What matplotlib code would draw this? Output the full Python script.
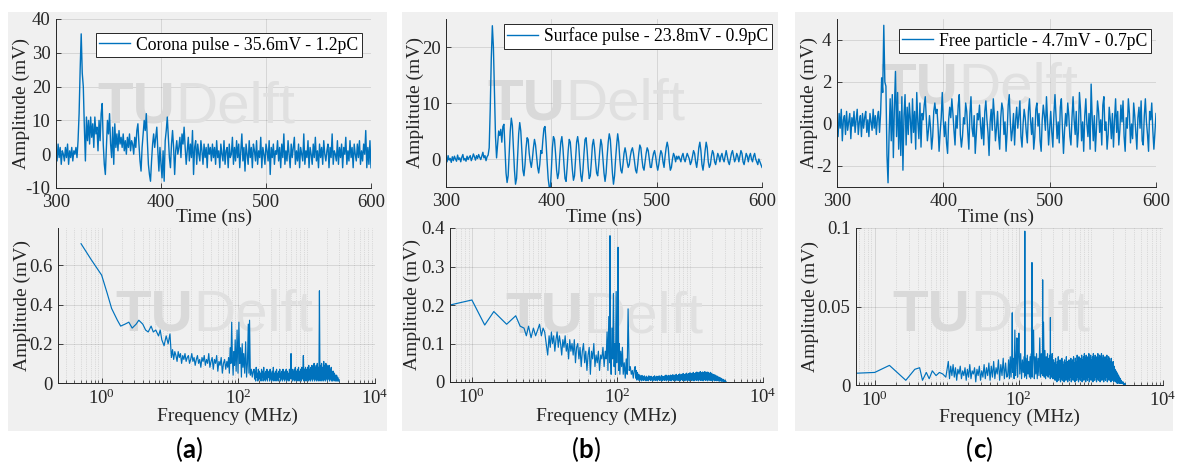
import numpy as np
import matplotlib
matplotlib.use('Agg')
import matplotlib.pyplot as plt
from matplotlib.patches import Rectangle
from matplotlib.ticker import FixedLocator, LogLocator, NullFormatter

plt.rcParams['font.family'] = ['Liberation Serif', 'DejaVu Serif']
plt.rcParams['mathtext.fontset'] = 'custom'
plt.rcParams['mathtext.rm'] = 'Liberation Serif'
plt.rcParams['mathtext.it'] = 'Liberation Serif:italic'
plt.rcParams['mathtext.bf'] = 'Liberation Serif:bold'
plt.rcParams['axes.unicode_minus'] = False

# ------------------------------------------------------------------ data
time_start, time_stop = 300, 600   # ns, one sample per ns

corona_mV = (
    [1, -2, 3, -1, 2, -3, 1, 0, -2, 2, -1, 3, -3, 1, -1, 2, -2, 1, 0, 2, -1]
    + [4, 12, 25, 35.6, 24, 20, 8, -2]
    + [11, 4, 10, 3, 11, 5, 9, 2, 11, 6, 8, 1, 10, 4, 12, 15, 3]
    + [-3, -6, 2, 10, 6, 12, 3, -1, 8, -3]
    + [9, 2, 6, 1, 7, 3, 5, 2, 6, 1]
    + [4, 0, 5, 2, 6, 1, 4, 3, 0, 5]
    + [2, 7, 9, 3, -2, -5, 2, 6, 10, 7]
    + [12, 4, -3, -6, -8, -2, 3, 6, 2, 5]
    + [8, 1, -5, 2, -3, -7, 1, -8, 4, 7]
    + [11, 5, -1, -4, 3, 7, 2, -6, 1, 4]
    + [0, 2, 5, -1, 6, 3, 8, 2, -3, 1]
    + [5, -2, 3, -1, 7, -6, 2, 4, -3, 3]
    + [0, -2, 4, 1, -3, 3, -1, 2, -4, 3]
    + [0, 2, -2, 3, -1]
    + [2, -3, 4, -1, 1, -4, 3, 0, -2, 4, -3, 1, 2, -4, 3, -1, 0, 5, -3, 2]
    + [-2, 4, -1, 3, -4, 1, 6, -2, 2, -5, 3, 0, -3, 4, -1, 2, -4, 3, 1, -2]
    + [4, -3, 1, -1, 5, -4, 2, 0, -3, 3, 1, -2, 4, -6, 2, -1, 3, -3, 1, 0]
    + [4, -2, 2, -4, 3, -1, 6, -3, 1, -2, 4, 0, -4, 3, -1, 2, 5, -3, 1, -2]
    + [3, -4, 2, 0, -2, 6, -3, 1, -1, 4, -4, 2, 0, -3, 3, -1, 5, -2, 1, -4]
    + [3, -1, 2, -3, 4, 0, -2, 1, 3, -4, 2, -1, 6, -3, 1, 0, -2, 4, -3, 2]
    + [-1, 3, -4, 2, 0, 5, -3, 1, -2, 4, -1, 2, -4, 3, 0, -2, 3, -1, 4, -3]
    + [1, -2, 3, 0, 7, -4, 2, -3, 4, -4]
)

surface_mV = (
    [0.3, -0.5, 0.6, -0.2, 0.1, -0.6, 0.4, -0.3, 0.5, 0.0,
     -0.4, 0.7, -0.1, 0.2, -0.5, 0.3, 0.8, -0.2, 0.1, -0.4,
     0.5, -0.1, 0.3, 0.6, -0.3, 0.2, 0.9, 0.4, -0.2, 0.6,
     0.1, 0.8, 0.3, -0.1, 0.5, 1.2, 0.2, 0.6, -0.3, 0.4, 0.7]
    + [2.0, 9.0, 18.0, 23.8, 20.0, 12.0, 4.0, 0.2, 2.5, 5.0]
    + [4.2, 5.3, 3.0, 5.8, 6.2, 2.0, -2.5, -4.2, -3.0, 1.0]
    + [5.0, 7.3, 6.0, 2.0, -2.0, -4.5, -3.5, 0.5, 4.5, 6.5]
    + [5.0, 1.5, -2.0, -3.0, -1.0, 2.0, 3.8, 3.5, 1.0, -0.5]
    + [-1.5, 0.0, 2.0, 3.5, 2.5, 0.5, -1.5, -2.5, -1.0, 1.5]
    + [1.0, 3.5, 5.5, 5.8, 3.0, -0.5, -3.5, -5.0, -5.5, -2.0]
    + [2.0, 4.0, 3.5, 1.0, -2.0, -3.5, -2.5, 0.5, 3.0, 4.0]
    + [2.0, -1.0, -3.5, -4.0, -1.5, 1.5, 3.5, 3.0, 0.5, -2.0]
    + [-3.8, -3.0, 0.0, 3.0, 4.0, 2.5, -0.5, -3.0, -4.0, -2.0]
    + [1.0, 3.5, 3.8, 1.5, -1.5, -3.5, -3.0, -0.5, 2.5, 3.5]
    + [2.0, -0.5, -2.5, -3.0, -1.0, 1.5, 3.5, 2.5, 0.0, -2.5]
    + [-4.0, -2.5, 0.5, 3.0, 4.5, 3.5, 0.5, -2.5, -4.5, -3.0]
    + [0.0, 2.5, 4.5, 3.0, 0.0, -2.0, -2.5, -1.0, 1.0, 2.0]
    + [1.0, -0.5, -1.5, -1.0, 0.5, 1.5, 2.0, 1.0, -0.5, -2.0]
    + [-2.5, -1.0, 1.0, 2.5, 2.0, 0.0, -1.5, -2.0, -0.5, 1.0]
    + [2.0, 1.5, 0.0, -1.5, -1.5, 0.0, 1.0, 1.5, 0.5, -1.0]
    + [-2.0, -1.0, 0.5, 1.5, 1.0, -0.5, -1.5, 0.5, 2.0, 3.0]
    + [2.0, -0.5, -2.0, -1.5, 0.0, 1.0, 0.5, -0.5, 0.5, 0.0]
    + [0.5, 0.0, -0.5, 0.5, 1.0, 0.0, -0.5, 0.3, 1.0, 0.5]
    + [0.0, -1.0, -0.5, 0.5, 1.5, 1.0, -0.5, -1.5, 0.0, 2.0]
    + [3.0, 1.5, -1.0, -2.0, -0.5, 1.5, 3.0, 2.0, -0.5, -1.5]
    + [-1.0, 0.5, 1.5, 1.0, -0.5, -1.0, 0.0, 1.0, 0.5, -0.5]
    + [0.5, 1.0, 0.0, -0.5, 0.5, 1.5, 0.5, -0.5, -1.0, 0.0]
    + [1.0, 1.5, 0.5, -0.5, 0.0, 1.0, 0.5, -0.5, 0.5, 1.5]
    + [1.0, -0.5, -1.0, 0.0, 1.0, 0.5, -0.5, 0.5, 1.0, 0.0]
    + [-0.5, 0.5, 1.0, 0.0, -0.5, -1.0, 0.0, -0.5, -1.0, -1.5]
)

particle_mV = (
    [0.3, -0.6, 0.5, -0.2, 0.7, -0.8, 0.2, 0.4, -0.5, 0.6,
     -0.3, 0.1, 0.5, -0.7, 0.3, -0.1, 0.6, -0.4, 0.2, 0.7,
     -0.5, 0.1, 0.4, -0.6, 0.5, -0.2, 0.3, 0.6, -0.4, 0.2,
     -0.6, 0.5, 0.1, -0.3, 0.7, -0.2, 0.4, -0.5, 0.3, 0.6, -0.4]
    + [0.5, 2.2, 1.5, 4.7, 2.0, 1.8, -1.5, -2.8, -0.5, 1.2]
    + [-0.8, 1.4, -1.6, 0.8, 2.5, -0.6, 1.5, -1.2, 0.6, -1.5]
    + [1.3, -2.2, 0.4, 1.4, -1.0, 0.8, -0.5, 1.0, 0.2, -0.9]
    + [1.2, -0.4, 0.6, -1.2, 1.5, 0.1, -0.7, 1.0, -1.1, 0.5]
    + [0.2, 0.9, 1.3, 0.3, -0.8, -0.3, 0.4, -0.2, -1.2, -0.6, 0.6, 1.0, 0.5, 0.7, -0.1, -1.3, -0.4, 0.3, 1.5, 0.2]
    + [-0.6, 0.1, -0.9, -1.4, 0.2, 0.8, 0.3, 1.2, 0.5, -0.3, -1.0, 0.4, -0.2, 0.9, 1.4, -0.5, -1.1, -0.6, 0.3, 0.0]
    + [1.0, 0.6, -0.4, -1.2, 0.5, 1.3, -0.2, -0.6, 0.4, -1.4, -0.5, 0.5, 0.2, 0.9, -0.1, -0.7, 0.3, -1.0, 0.6, 1.1]
    + [0.2, -0.4, -1.5, 0.1, 0.7, -0.3, 1.2, 0.4, -0.8, -0.2, 0.6, -0.6, -1.2, 0.3, 1.0, 0.7, -0.5, 0.1, -1.3, -0.4]
    + [0.9, 1.4, 0.1, -0.8, -0.3, 0.5, -1.0, 0.2, 0.8, -0.2, 0.4, 1.1, -0.6, -1.1, 0.0, 0.7, 0.3, -0.4, -0.9, 0.6]
    + [1.2, 0.2, -0.5, 0.3, -1.2, -0.6, 0.7, 1.0, -0.1, 0.5, -0.8, -1.3, 0.2, 0.9, 0.4, -0.3, 1.3, 0.1, -1.0, -0.2]
    + [0.6, -0.4, -1.1, 0.5, 1.4, 0.3, -0.7, 0.1, -0.9, 0.8, 1.2, -0.2, -1.4, -0.3, 0.5, -0.1, 1.0, 0.4, -0.6, -1.0]
    + [0.3, 1.3, 0.2, -0.5, 0.6, -1.1, -0.4, 1.5, 0.7, -0.8, 0.1, -1.3, 0.4, 1.2, 0.0, -0.6, 0.5, -1.2, 1.9, 0.3]
    + [-0.8, 0.4, -1.3, -0.2, 1.1, 0.6, -0.4, 0.2, -1.0, 0.9, 1.3, -0.3, 0.1, -1.2, -0.5, 0.8, 0.2, -0.7, 0.5, -1.1]
    + [0.2, 1.2, -0.4, 0.6, -1.0, -0.3, 0.9, 0.1, 1.1, -0.6, -1.3, 0.3, -0.2, 1.2, 0.5, -0.9, 0.0, -0.7, 1.0, 0.4]
    + [-0.4, -1.2, 0.3, 0.8, -0.2, 1.1, -0.8, -1.0, 0.4, 1.2, 0.1, -0.5, -1.3, 0.6, 0.2, 1.0, -0.3, -1.2, -0.4, 0.5]
)

legend_labels = ['Corona pulse - 35.6mV - 1.2pC',
                 'Surface pulse - 23.8mV - 0.9pC',
                 'Free particle - 4.7mV - 0.7pC']

# ---- spectra (frequency in MHz, amplitude in mV)
# (a) corona
low_f_a = [0.5, 0.7, 1.0, 1.2, 1.4, 1.7, 1.9, 2.2, 2.5, 2.8, 3.2, 3.5, 4.0, 4.4,
           4.8, 5.3, 5.7, 6.2, 6.8, 7.2, 7.6, 8.2, 8.8, 9.4, 10.0]
low_a_a = [0.71, 0.63, 0.55, 0.46, 0.38, 0.32, 0.29, 0.30, 0.31, 0.28, 0.30, 0.32,
           0.30, 0.27, 0.26, 0.29, 0.26, 0.27, 0.24, 0.27, 0.22, 0.19, 0.24, 0.20, 0.25]
mid_range_a = (10.5, 68)
mid_a_a = [0.13, 0.17, 0.12, 0.16, 0.14, 0.11, 0.16, 0.13, 0.15, 0.10,
           0.14, 0.12, 0.15, 0.11, 0.13, 0.14, 0.10, 0.12, 0.15, 0.11,
           0.13, 0.09, 0.12, 0.14, 0.10, 0.12, 0.08, 0.13, 0.11, 0.14,
           0.09, 0.12, 0.10, 0.15, 0.08, 0.11, 0.13, 0.07, 0.12, 0.10,
           0.14, 0.06, 0.11, 0.09, 0.13, 0.05, 0.10, 0.12, 0.07, 0.11]
peak_f_a = [70, 72, 74, 76, 78, 80, 82, 84, 86, 88, 90, 93, 96, 99, 102, 105, 108,
            111, 114, 117, 120, 124, 128, 132, 136, 140, 143, 146, 150, 155, 160, 165]
peak_a_a = [0.08, 0.13, 0.05, 0.18, 0.10, 0.31, 0.12, 0.04, 0.16, 0.09, 0.22, 0.06,
            0.27, 0.05, 0.31, 0.10, 0.18, 0.03, 0.20, 0.08, 0.15, 0.05, 0.21, 0.03,
            0.10, 0.30, 0.05, 0.32, 0.04, 0.07, 0.03, 0.06]
band_range_a = (170, 3000)
band_a_a = [0.07, 0.02, 0.06, 0.01, 0.08, 0.03, 0.05, 0.01, 0.07, 0.02, 0.06, 0.02, 0.05, 0.01, 0.07, 0.03, 0.06, 0.01, 0.08, 0.02,
            0.05, 0.01, 0.06, 0.02, 0.07, 0.01, 0.05, 0.03, 0.06, 0.01, 0.07, 0.02, 0.05, 0.01, 0.06, 0.02, 0.08, 0.01, 0.05, 0.02,
            0.06, 0.01, 0.07, 0.02, 0.05, 0.01, 0.06, 0.03, 0.07, 0.01, 0.05, 0.02, 0.06, 0.01, 0.07, 0.02, 0.05, 0.01, 0.06, 0.02,
            0.07, 0.01, 0.06, 0.02, 0.05, 0.01, 0.07, 0.02, 0.06, 0.15, 0.02, 0.07, 0.01, 0.06, 0.02, 0.07, 0.01, 0.08, 0.02, 0.06,
            0.01, 0.07, 0.02, 0.08, 0.01, 0.06, 0.02, 0.07, 0.01, 0.08, 0.02, 0.06, 0.14, 0.01, 0.07, 0.02, 0.08, 0.01, 0.07, 0.02,
            0.08, 0.01, 0.09, 0.02, 0.07, 0.01, 0.08, 0.02, 0.09, 0.01, 0.08, 0.02, 0.10, 0.01, 0.08, 0.02, 0.09, 0.01, 0.10, 0.02,
            0.08, 0.01, 0.47, 0.02, 0.09, 0.01, 0.10, 0.02, 0.08, 0.01, 0.11, 0.02, 0.09, 0.01, 0.10, 0.02, 0.09, 0.01, 0.08, 0.02,
            0.09, 0.01, 0.07, 0.02, 0.08, 0.01, 0.06, 0.01, 0.06, 0.02, 0.05, 0.01, 0.04, 0.01, 0.04, 0.01, 0.03, 0.01, 0.02, 0.01]

# (b) surface
low_f_b = [0.5, 1.0, 1.5, 2.0, 3.0, 4.0, 4.6, 5.2, 5.6, 6.0, 6.5, 7.0, 7.5, 8.0,
           8.5, 9.0, 9.5, 10.0, 10.5, 11.0]
low_a_b = [0.20, 0.213, 0.148, 0.183, 0.15, 0.172, 0.145, 0.14, 0.12, 0.145, 0.115,
           0.14, 0.12, 0.135, 0.15, 0.12, 0.14, 0.13, 0.10, 0.07]
mid_range_b = (11.5, 68)
mid_a_b = [0.12, 0.09, 0.13, 0.10, 0.12, 0.08, 0.11, 0.13, 0.09, 0.12,
           0.10, 0.07, 0.11, 0.09, 0.12, 0.08, 0.10, 0.06, 0.11, 0.08,
           0.10, 0.07, 0.11, 0.05, 0.09, 0.10, 0.06, 0.09, 0.04, 0.08,
           0.10, 0.05, 0.08, 0.03, 0.07, 0.09, 0.02, 0.08, 0.06, 0.10,
           0.04, 0.07, 0.05, 0.08, 0.03, 0.07, 0.06, 0.09, 0.04, 0.08]
peak_f_b = [70, 72, 74, 76, 78, 79, 80, 82, 84, 86, 88, 90, 92, 94, 96, 98, 100, 102,
            104, 106, 108, 111, 114, 117, 120, 124, 128, 132, 136, 140, 145, 150,
            155, 160, 165, 170]
peak_a_b = [0.06, 0.13, 0.03, 0.17, 0.05, 0.38, 0.08, 0.02, 0.14, 0.06, 0.23, 0.04,
            0.10, 0.02, 0.235, 0.05, 0.12, 0.35, 0.03, 0.10, 0.02, 0.08, 0.04, 0.09,
            0.02, 0.05, 0.01, 0.06, 0.02, 0.19, 0.03, 0.04, 0.02, 0.03, 0.01, 0.03]
band_range_b = (175, 3100)
band_a_b = [0.04, 0.01, 0.03, 0.005, 0.025, 0.01, 0.02, 0.004, 0.018, 0.006, 0.015, 0.003, 0.017, 0.005, 0.014, 0.004, 0.016, 0.006, 0.013, 0.003,
            0.015, 0.005, 0.012, 0.003, 0.016, 0.006, 0.013, 0.004, 0.015, 0.005, 0.012, 0.003, 0.014, 0.006, 0.016, 0.004, 0.013, 0.005, 0.015, 0.003,
            0.014, 0.006, 0.016, 0.004, 0.013, 0.005, 0.017, 0.003, 0.015, 0.006, 0.014, 0.004, 0.016, 0.005, 0.018, 0.003, 0.015, 0.006, 0.017, 0.004,
            0.016, 0.005, 0.018, 0.003, 0.017, 0.006, 0.019, 0.004, 0.016, 0.005, 0.018, 0.003, 0.020, 0.006, 0.017, 0.004, 0.019, 0.005, 0.021, 0.003,
            0.018, 0.006, 0.020, 0.004, 0.022, 0.005, 0.019, 0.003, 0.021, 0.006, 0.023, 0.004, 0.020, 0.005, 0.022, 0.003, 0.024, 0.006, 0.021, 0.004,
            0.023, 0.005, 0.025, 0.003, 0.022, 0.006, 0.024, 0.004, 0.026, 0.005, 0.023, 0.003, 0.025, 0.006, 0.027, 0.004, 0.024, 0.005, 0.026, 0.003,
            0.025, 0.006, 0.027, 0.004, 0.024, 0.005, 0.026, 0.003, 0.025, 0.006, 0.023, 0.004, 0.025, 0.005, 0.022, 0.003, 0.020, 0.005, 0.019, 0.003,
            0.018, 0.004, 0.016, 0.003, 0.015, 0.004, 0.013, 0.002, 0.012, 0.003, 0.010, 0.002, 0.008, 0.002, 0.007, 0.001, 0.005, 0.001, 0.003, 0.001]

# (c) free particle
low_f_c = [0.55, 1.0, 1.6, 2.7, 3.6, 4.2, 4.6, 5.2, 5.7, 6.3, 7.1, 7.9, 8.8, 9.7]
low_a_c = [0.0075, 0.008, 0.0125, 0.003, 0.010, 0.011, 0.003, 0.008, 0.004, 0.009,
           0.006, 0.008, 0.007, 0.005]
mid_range_c = (10.5, 68)
mid_a_c = [0.015, 0.004, 0.012, 0.006, 0.013, 0.005, 0.011, 0.003, 0.010, 0.007,
           0.012, 0.004, 0.009, 0.006, 0.011, 0.003, 0.010, 0.005, 0.013, 0.004,
           0.009, 0.007, 0.011, 0.002, 0.010, 0.006, 0.012, 0.003, 0.009, 0.005,
           0.013, 0.004, 0.011, 0.006, 0.014, 0.003, 0.012, 0.005, 0.015, 0.004,
           0.011, 0.007, 0.016, 0.003, 0.013, 0.006, 0.017, 0.004, 0.014, 0.005]
peak_f_c = [70, 72, 74, 76, 78, 80, 81, 82, 84, 86, 88, 90, 92, 94, 96, 98, 100, 103,
            106, 109, 112, 115, 118, 120, 121, 122, 125, 128, 131, 134, 137, 140, 143,
            146, 149, 151, 152, 153, 156, 160, 164, 168, 172, 176, 180, 185, 190, 195,
            200, 205, 210, 213, 214, 215, 220, 225, 230, 235, 240, 245, 250, 255, 260,
            265, 270, 273, 274, 275, 280, 285, 290, 295, 300]
peak_a_c = [0.006, 0.016, 0.004, 0.018, 0.005, 0.02, 0.046, 0.008, 0.017, 0.004,
            0.035, 0.006, 0.015, 0.03, 0.005, 0.018, 0.033, 0.007, 0.02, 0.004,
            0.016, 0.008, 0.018, 0.005, 0.098, 0.006, 0.017, 0.004, 0.019, 0.007,
            0.015, 0.005, 0.018, 0.004, 0.02, 0.006, 0.078, 0.005, 0.016, 0.035,
            0.004, 0.018, 0.007, 0.02, 0.004, 0.017, 0.006, 0.03, 0.005, 0.02,
            0.007, 0.015, 0.067, 0.006, 0.04, 0.005, 0.022, 0.004, 0.018, 0.006,
            0.02, 0.005, 0.017, 0.007, 0.019, 0.004, 0.043, 0.006, 0.018, 0.005,
            0.02, 0.004, 0.016]
band_range_c = (305, 3000)
band_a_c = [0.016, 0.004, 0.014, 0.003, 0.017, 0.005, 0.013, 0.002, 0.015, 0.004, 0.018, 0.003, 0.014, 0.005, 0.016, 0.002, 0.013, 0.004, 0.017, 0.003,
            0.015, 0.005, 0.013, 0.002, 0.016, 0.004, 0.014, 0.003, 0.018, 0.005, 0.015, 0.002, 0.013, 0.004, 0.016, 0.003, 0.014, 0.005, 0.017, 0.002,
            0.015, 0.004, 0.016, 0.003, 0.018, 0.005, 0.014, 0.002, 0.017, 0.004, 0.015, 0.003, 0.019, 0.005, 0.016, 0.002, 0.018, 0.004, 0.015, 0.003,
            0.017, 0.005, 0.019, 0.002, 0.016, 0.004, 0.018, 0.003, 0.020, 0.005, 0.017, 0.002, 0.019, 0.004, 0.016, 0.003, 0.018, 0.005, 0.020, 0.002,
            0.017, 0.004, 0.019, 0.003, 0.016, 0.005, 0.018, 0.002, 0.020, 0.004, 0.017, 0.003, 0.019, 0.005, 0.016, 0.002, 0.018, 0.004, 0.020, 0.003,
            0.017, 0.005, 0.019, 0.002, 0.018, 0.004, 0.020, 0.003, 0.017, 0.005, 0.019, 0.002, 0.016, 0.004, 0.018, 0.003, 0.017, 0.005, 0.019, 0.002,
            0.016, 0.004, 0.018, 0.003, 0.017, 0.005, 0.015, 0.002, 0.017, 0.004, 0.014, 0.003, 0.015, 0.002, 0.012, 0.003, 0.010, 0.002, 0.009, 0.002,
            0.008, 0.001, 0.007, 0.002, 0.006, 0.001, 0.005, 0.001, 0.004, 0.001, 0.003, 0.001, 0.002, 0.001, 0.002, 0.0, 0.001, 0.0, 0.001, 0.0]

panel_letters = ['a', 'b', 'c']
time_yticks = [[-10, 0, 10, 20, 30, 40], [0, 10, 20], [-2, 0, 2, 4]]
time_ylims = [(-10, 40), (-5, 25), (-3, 5)]
time_xticks = [300, 400, 500, 600]
freq_yticks = [[0, 0.2, 0.4, 0.6], [0, 0.1, 0.2, 0.3, 0.4], [0, 0.05, 0.1]]
freq_ytick_labels = [['0', '0.2', '0.4', '0.6'], ['0', '0.1', '0.2', '0.3', '0.4'], ['0', '0.05', '0.1']]
freq_ylims = [(0, 0.79), (0, 0.4), (0, 0.1)]
freq_xlims = [(0.23, 1e4), (0.5, 1e4), (0.55, 1e4)]
freq_xticks = [1, 100, 10000]
freq_xtick_labels = [r'$\mathregular{10^{0}}$', r'$\mathregular{10^{2}}$', r'$\mathregular{10^{4}}$']

# ------------------------------------------------------------------ layout
W, H = 1178, 467
LINE = '#0072bd'
TXT = '#262626'
BG = '#f0f0f0'

fig = plt.figure(figsize=(W / 100, H / 100), dpi=100)
fig.patch.set_facecolor('white')

for (x0, x1) in [(8, 387), (402, 778), (795, 1173)]:
    fig.patches.append(Rectangle((x0 / W, 1 - 431 / H), (x1 - x0) / W, (431 - 12) / H,
                                 transform=fig.transFigure, facecolor=BG,
                                 edgecolor='none', zorder=-5))


def add_ax(l, t, r, b):
    return fig.add_axes([l / W, 1 - b / H, (r - l) / W, (b - t) / H])


top_boxes = [(56, 19, 371, 188), (446, 19, 762, 187), (837, 19, 1156, 187)]
bot_boxes = [(58, 228, 375, 383), (450, 228, 763, 382), (856, 228, 1163, 385)]
top_ylab_x = [-0.081, -0.07, -0.058]
bot_ylab_x = [-0.085, -0.093, -0.12]
top_xlab_y = [-0.121, -0.128, -0.128]
bot_xlab = [(0.533, -0.158), (0.5, -0.166), (0.5, -0.150)]
legend_anchor = [(0.971, 0.917), (1.032, 0.970), (0.984, 0.940)]
wm_top = [(0.13, 0.39), (0.13, 0.40), (0.135, 0.50)]
wm_bot = [(0.18, 0.34), (0.176, 0.32), (0.117, 0.35)]
label_x = [189, 586, 979]

renderer = fig.canvas.get_renderer()


def style(ax):
    ax.set_facecolor(BG)
    for s in ['top', 'right']:
        ax.spines[s].set_visible(False)
    for s in ['left', 'bottom']:
        ax.spines[s].set_color(TXT)
        ax.spines[s].set_linewidth(0.7)
    ax.set_axisbelow(True)
    ax.tick_params(which='major', direction='in', length=3.5, width=0.6, color=TXT,
                   labelsize=13.5, labelcolor=TXT, pad=4)
    ax.tick_params(which='minor', direction='in', length=2, width=0.5, color=TXT)
    ax.grid(True, which='major', color=TXT, alpha=0.15, linewidth=0.6)


def watermark(ax, x, y):
    t1 = ax.text(x, y, 'TU', transform=ax.transAxes, fontfamily='Liberation Sans',
                 fontweight='bold', fontsize=42, color='#d9d9d9', zorder=0.6,
                 va='baseline', ha='left')
    bb = t1.get_window_extent(renderer)
    xe = ax.transAxes.inverted().transform((bb.x1, bb.y0))[0]
    ax.text(xe, y, 'Delft', transform=ax.transAxes, fontfamily='Liberation Sans',
            fontsize=42, color='#e0e0e0', zorder=0.6, va='baseline', ha='left')


time_series = [corona_mV, surface_mV, particle_mV]
spectra = [
    (low_f_a, low_a_a, mid_range_a, mid_a_a, peak_f_a, peak_a_a, band_range_a, band_a_a),
    (low_f_b, low_a_b, mid_range_b, mid_a_b, peak_f_b, peak_a_b, band_range_b, band_a_b),
    (low_f_c, low_a_c, mid_range_c, mid_a_c, peak_f_c, peak_a_c, band_range_c, band_a_c),
]

for i in range(3):
    # ---------------- time domain
    ax = add_ax(*top_boxes[i])
    style(ax)
    vals = np.asarray(time_series[i], dtype=float)
    t = np.linspace(time_start, time_stop, len(vals))
    ax.plot(t, vals, color=LINE, lw=1.0, label=legend_labels[i], zorder=2)
    ax.set_xlim(time_start, time_stop)
    ax.set_ylim(*time_ylims[i])
    ax.set_xticks(time_xticks)
    ax.set_yticks(time_yticks[i])
    ax.set_xlabel('Time (ns)', fontsize=14, color=TXT)
    ax.set_ylabel('Amplitude (mV)', fontsize=14, color=TXT)
    ax.yaxis.set_label_coords(top_ylab_x[i], 0.5)
    ax.xaxis.set_label_coords(0.5, top_xlab_y[i])
    watermark(ax, *wm_top[i])
    leg = ax.legend(loc='upper right', bbox_to_anchor=legend_anchor[i], borderaxespad=0,
                    fontsize=12.7, frameon=True, fancybox=False, framealpha=1,
                    edgecolor=TXT, handlelength=1.75, handletextpad=0.35,
                    borderpad=0.2)
    leg.get_frame().set_linewidth(0.7)
    leg.set_zorder(5)

    # ---------------- spectrum
    lf, la, mr, ma, pf, pa, br, ba = spectra[i]
    f = np.concatenate([lf, np.geomspace(mr[0], mr[1], len(ma)), pf,
                        np.geomspace(br[0], br[1], len(ba))])
    a = np.concatenate([la, ma, pa, ba])
    ax2 = add_ax(*bot_boxes[i])
    style(ax2)
    ax2.plot(f, a, color=LINE, lw=0.85, zorder=2)
    ax2.set_xscale('log')
    ax2.set_xlim(*freq_xlims[i])
    ax2.set_ylim(*freq_ylims[i])
    ax2.xaxis.set_major_locator(FixedLocator(freq_xticks))
    ax2.set_xticklabels(freq_xtick_labels)
    ax2.xaxis.set_minor_locator(LogLocator(base=10, subs=np.arange(1, 10), numticks=30))
    ax2.xaxis.set_minor_formatter(NullFormatter())
    ax2.set_yticks(freq_yticks[i])
    ax2.set_yticklabels(freq_ytick_labels[i])
    ax2.grid(True, which='minor', axis='x', color=TXT, alpha=0.22, linewidth=0.5,
             linestyle=':')
    ax2.set_xlabel('Frequency (MHz)', fontsize=14, color=TXT)
    ax2.set_ylabel('Amplitude (mV)', fontsize=14, color=TXT)
    ax2.yaxis.set_label_coords(bot_ylab_x[i], 0.5)
    ax2.xaxis.set_label_coords(*bot_xlab[i])
    watermark(ax2, *wm_bot[i])

    # ---------------- panel label "(a)" with bold letter
    yb = 1 - 458 / H
    tl = fig.text(label_x[i] / W, yb, panel_letters[i], fontfamily='Lato',
                  fontweight='bold', fontsize=18.5, ha='center', va='baseline',
                  color='black')
    bb = tl.get_window_extent(renderer)
    fig.text(bb.x0 / W, yb, '(', fontfamily='Lato', fontsize=18.5, ha='right',
             va='baseline', color='black')
    fig.text(bb.x1 / W, yb, ')', fontfamily='Lato', fontsize=18.5, ha='left',
             va='baseline', color='black')

fig.savefig('out.png', dpi=100, facecolor='white')
